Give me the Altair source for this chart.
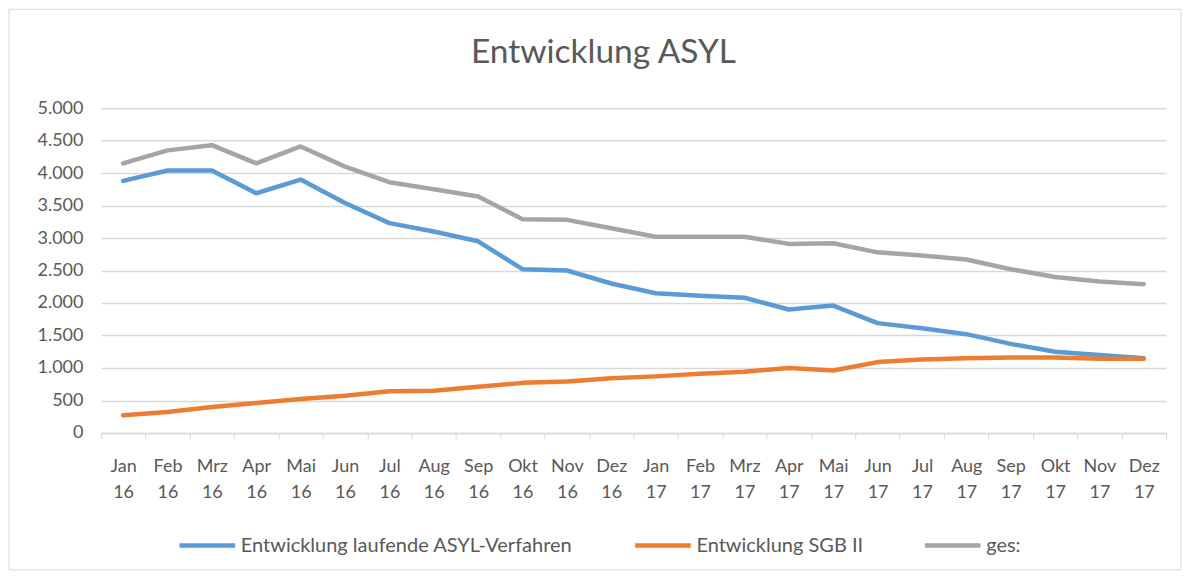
import altair as alt
import pandas as pd

months = ["Jan 16", "Feb 16", "Mrz 16", "Apr 16", "Mai 16", "Jun 16", "Jul 16", "Aug 16",
          "Sep 16", "Okt 16", "Nov 16", "Dez 16", "Jan 17", "Feb 17", "Mrz 17", "Apr 17",
          "Mai 17", "Jun 17", "Jul 17", "Aug 17", "Sep 17", "Okt 17", "Nov 17", "Dez 17"]

asyl = [3880, 4040, 4040, 3690, 3900, 3540, 3230, 3100, 2950, 2520, 2500, 2300,
        2150, 2110, 2080, 1900, 1960, 1690, 1610, 1520, 1370, 1250, 1200, 1150]
sgb = [270, 320, 400, 460, 520, 570, 640, 650, 710, 770, 790, 840,
       870, 910, 940, 1000, 960, 1090, 1130, 1150, 1160, 1160, 1140, 1140]
ges = [4150, 4350, 4430, 4150, 4410, 4100, 3860, 3750, 3640, 3290, 3280, 3150,
       3020, 3020, 3020, 2910, 2920, 2780, 2730, 2670, 2520, 2400, 2330, 2290]

series_names = ["Entwicklung laufende ASYL-Verfahren", "Entwicklung SGB II", "ges:"]
series_colors = ["#5B9BD5", "#ED7D31", "#A5A5A5"]
title_text = ["Entwicklung ASYL"]

rows = []
for name, vals in zip(series_names, [asyl, sgb, ges]):
    for m, v in zip(months, vals):
        rows.append({"Monat": m, "Wert": v, "Serie": name})
df = pd.DataFrame(rows)
title_df = pd.DataFrame({"t": title_text})

FONT = "Lato"
TXT = "#595959"

lines = alt.Chart(df).mark_line(strokeWidth=4.5, strokeCap="round", strokeJoin="round").encode(
    x=alt.X("Monat:N", sort=months, title=None,
            scale=alt.Scale(type="band", paddingInner=0, paddingOuter=0),
            axis=alt.Axis(labelExpr="isValid(datum.value) ? split(datum.value, ' ') : ''",
                          labelAngle=0,
                          labelFontSize=18, labelColor=TXT, labelFont=FONT,
                          labelLineHeight=26, labelPadding=19,
                          ticks=True, tickBand="extent", tickSize=6, tickColor="#d9d9d9",
                          domainColor="#d9d9d9", domainWidth=1.5, grid=False)),
    y=alt.Y("Wert:Q", title=None,
            scale=alt.Scale(domain=[0, 5000], nice=False),
            axis=alt.Axis(values=list(range(0, 5001, 500)),
                          labelExpr="replace(format(datum.value, ','), ',', '.')",
                          labelFontSize=18, labelColor=TXT, labelFont=FONT,
                          labelPadding=18, ticks=False, domain=False,
                          gridColor="#d9d9d9", gridWidth=1.5)),
    color=alt.Color("Serie:N", sort=series_names,
                    scale=alt.Scale(domain=series_names, range=series_colors),
                    legend=alt.Legend(title=None, orient="none", direction="horizontal",
                                      legendX=76, legendY=407,
                                      symbolType="stroke", symbolStrokeWidth=4.5,
                                      symbolSize=3100, labelFontSize=20, labelFont=FONT,
                                      labelColor=TXT, labelOffset=3, columnPadding=52,
                                      labelLimit=500)),
)

border = alt.Chart(title_df).mark_rect(fill=None, stroke="#d9d9d9", strokeWidth=1, clip=False).encode(
    x=alt.value(-92), x2=alt.value(1081), y=alt.value(-99), y2=alt.value(462)
)

title = alt.Chart(title_df).mark_text(fontSize=33.5, font=FONT, color=TXT, align="center",
                                      baseline="middle").encode(
    x=alt.value(503), y=alt.value(-55), text="t:N"
)

chart = alt.layer(border, lines, title).properties(
    width=1066, height=325,
    padding=0,
).configure_view(stroke=None)

chart.save("out.html", embed_options={"renderer": "svg", "actions": False})
